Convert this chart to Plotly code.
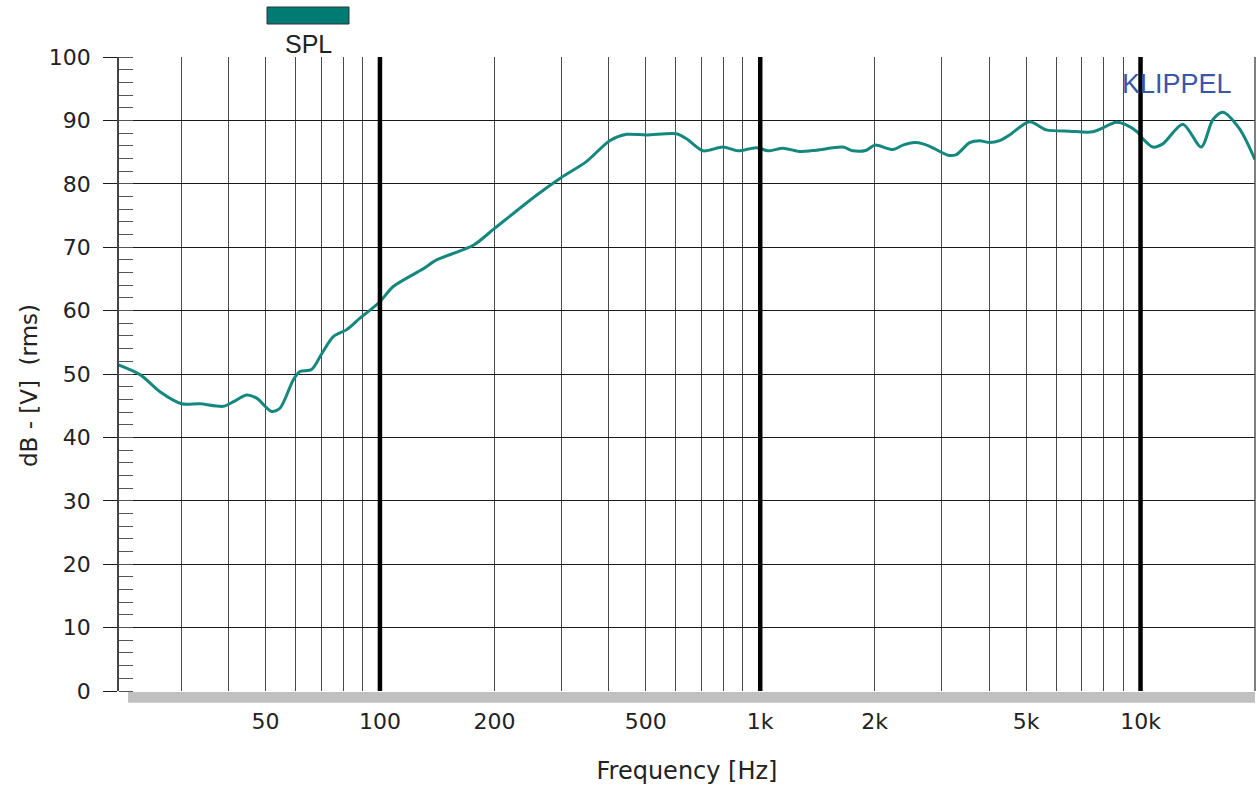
import math
import plotly.graph_objects as go

# ---- data ----
freq_hz = [20, 23.4, 26.4, 30.1, 33.6, 38.7, 41.1, 44.6, 47.4, 51.9, 54.6, 59.2, 61.6,
           66.1, 70.3, 75.4, 81.8, 88.6, 100, 108.4, 130, 141, 176, 200.5, 258, 300,
           349, 402, 445, 502, 602, 640, 707, 798, 874, 977, 1048, 1148, 1270, 1405,
           1650, 1753, 1902, 2000, 2234, 2373, 2547, 2679, 2818, 3116, 3278, 3553,
           3776, 4010, 4260, 4525, 5108, 5652, 6509, 7494, 8634, 9173, 9840, 10140,
           10770, 11445, 12920, 14440, 15490, 16450, 18200, 20000]
spl_db = [51.7, 49.9, 47.2, 45.3, 45.3, 44.9, 45.6, 46.7, 46.2, 44.1, 44.6, 49.1, 50.4,
          50.7, 53.2, 55.9, 57.0, 58.8, 61.4, 63.8, 66.6, 68.0, 70.3, 73.0, 78.2, 81.0,
          83.5, 86.8, 87.8, 87.7, 87.9, 87.1, 85.2, 85.8, 85.2, 85.7, 85.2, 85.6, 85.1,
          85.3, 85.8, 85.2, 85.3, 86.1, 85.4, 86.1, 86.5, 86.3, 85.8, 84.5, 84.6, 86.5,
          86.8, 86.5, 86.8, 87.7, 89.8, 88.5, 88.3, 88.2, 89.7, 89.3, 88.1, 87.1,
          85.8, 86.3, 89.4, 85.8, 90.1, 91.3, 88.7, 83.8]

grid_freqs = [30, 40, 50, 60, 70, 80, 90, 100, 200, 300, 400, 500, 600, 700, 800, 900,
              1000, 2000, 3000, 4000, 5000, 6000, 7000, 8000, 9000, 10000, 20000]
labelled = {50: "50", 100: "100", 200: "200", 500: "500", 1000: "1k", 2000: "2k",
            5000: "5k", 10000: "10k"}
bold_decades = [100, 1000, 10000]
y_ticks = list(range(0, 101, 10))
x_range_hz = [20.6, 20000]

ARIAL = "Liberation Sans, Arial, sans-serif"
DEJAVU = "DejaVu Sans, sans-serif"
TEXT = "#222222"
LINE_COLOR = "#14877e"

fig = go.Figure()
fig.add_trace(go.Scatter(x=freq_hz, y=spl_db, mode="lines", name="SPL",
                         line=dict(color=LINE_COLOR, width=3, shape="spline", smoothing=0.8),
                         showlegend=False))

fig.update_layout(
    width=1257, height=786,
    margin=dict(l=119, r=2, t=57, b=95),
    paper_bgcolor="white", plot_bgcolor="white",
    font=dict(family=DEJAVU, color=TEXT, size=22),
    xaxis=dict(
        type="log", range=[math.log10(x_range_hz[0]), math.log10(x_range_hz[1])],
        tickvals=grid_freqs, ticktext=[labelled.get(f, "") for f in grid_freqs],
        showgrid=True, gridcolor="#4a4a4a", gridwidth=1.2,
        ticks="", showline=False, zeroline=False,
        tickfont=dict(size=22, family=DEJAVU, color=TEXT),
        title=dict(text="Frequency [Hz]", font=dict(size=24, family=DEJAVU, color=TEXT),
                   standoff=29),
        ticklabelstandoff=15,
    ),
    yaxis=dict(
        range=[0, 100], tickvals=y_ticks,
        showgrid=True, gridcolor="#1a1a1a", gridwidth=1.4,
        ticks="outside", ticklen=14, tickcolor="#1a1a1a", tickwidth=1.4,
        showline=True, linecolor="#444444", linewidth=1.5, mirror=False,
        zeroline=False,
        minor=dict(dtick=2, ticks="inside", ticklen=14, tickcolor="#555555",
                   tickwidth=1.2, showgrid=False),
        tickfont=dict(size=22, family=DEJAVU, color=TEXT),
        ticklabelstandoff=8,
    ),
)

shapes = []
for f in bold_decades:
    shapes.append(dict(type="line", xref="x", yref="paper", x0=f, x1=f, y0=0, y1=1,
                       line=dict(color="black", width=4.5), layer="above"))
# right border
shapes.append(dict(type="line", xref="paper", yref="paper", x0=1, x1=1, y0=0, y1=1,
                   line=dict(color="#555555", width=1.5)))
# grey shadow under the plot
shapes.append(dict(type="rect", xref="paper", yref="paper", x0=0.008, x1=1.0,
                   y0=-0.0185, y1=-0.0015, fillcolor="#c0c0c0", line=dict(width=0),
                   layer="below"))
# legend swatch
shapes.append(dict(type="rect", xref="paper", yref="paper",
                   x0=(267 - 119) / 1136, x1=(349 - 119) / 1136,
                   y0=(691 - 24) / 634, y1=(691 - 7) / 634,
                   fillcolor="#007b73", line=dict(color="#333333", width=1)))
fig.update_layout(shapes=shapes)

fig.add_annotation(text="dB - [V]\u00a0\u00a0(rms)", xref="paper", yref="paper",
                   x=(29 - 119) / 1136, y=(691 - 386) / 634, showarrow=False,
                   textangle=-90, font=dict(size=23, family=DEJAVU, color=TEXT),
                   xanchor="center", yanchor="middle")
fig.add_annotation(text="SPL", xref="paper", yref="paper",
                   x=(308 - 119) / 1136, y=(691 - 44) / 634, showarrow=False,
                   font=dict(size=25, family=ARIAL, color=TEXT),
                   xanchor="center", yanchor="middle")
fig.add_annotation(text="KLIPPEL", xref="paper", yref="paper",
                   x=(1234 - 119) / 1136, y=(691 - 84) / 634, showarrow=False,
                   font=dict(size=27, family=ARIAL, color="#3a56a8"),
                   xanchor="right", yanchor="middle")

fig.write_html("out.html", config={"displayModeBar": False},
               post_script="document.body.style.margin='0';document.body.style.overflow='hidden';")
